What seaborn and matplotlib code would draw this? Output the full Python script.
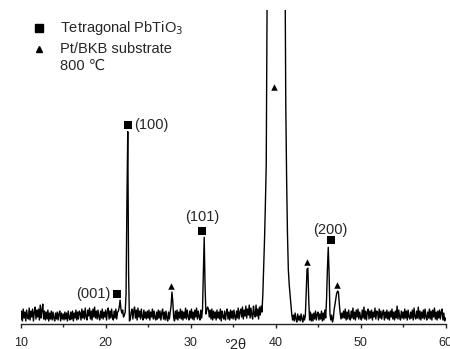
import numpy as np
import pandas as pd
import seaborn as sns
import matplotlib.pyplot as plt

# XRD pattern, 10-60 deg 2theta, step 0.1 (counts)
two_theta = np.round(np.arange(10.0, 60.05, 0.1), 1)
counts = [
    40, 130, 30, 150, 60, 120, 30, 140, 70, 50,          # 10
    160, 40, 130, 70, 150, 30, 120, 170, 50, 140,        # 11
    70, 150, 40, 190, 60, 140, 200, 50, 130, 40,         # 12
    120, 50, 140, 30, 110, 50, 130, 40, 120, 60,         # 13
    30, 110, 50, 120, 40, 100, 130, 30, 110, 50,         # 14
    100, 40, 120, 50, 110, 30, 130, 60, 40, 120,         # 15
    50, 130, 30, 110, 60, 140, 40, 120, 50, 130,         # 16
    110, 40, 150, 60, 130, 50, 160, 70, 40, 140,         # 17
    80, 160, 50, 130, 40, 150, 70, 170, 60, 130,         # 18
    50, 140, 70, 40, 130, 60, 150, 50, 120, 70,          # 19
    140, 40, 120, 160, 50, 130, 60, 150, 70, 40,         # 20
    130, 60, 150, 50, 120, 130, 170, 240, 150, 110,      # 21
    140, 70, 90, 120, 300, 1200, 1930, 500, 30, 50,      # 22
    120, 150, 50, 130, 170, 60, 140, 40, 160, 70,        # 23
    130, 50, 150, 70, 40, 140, 60, 120, 50, 130,         # 24
    60, 140, 40, 120, 70, 150, 50, 130, 60, 40,          # 25
    120, 50, 140, 60, 130, 40, 110, 150, 50, 120,        # 26
    40, 130, 60, 30, 120, 50, 120, 180, 320, 230,        # 27
    70, 30, 130, 50, 140, 40, 120, 60, 150, 50,          # 28
    130, 40, 120, 60, 160, 50, 140, 70, 40, 130,         # 29
    60, 150, 50, 120, 40, 140, 70, 160, 50, 130,         # 30
    70, 40, 140, 60, 150, 500, 870, 380, 100, 140,       # 31
    170, 150, 70, 140, 50, 150, 40, 130, 60, 120,        # 32
    40, 140, 60, 120, 50, 150, 30, 130, 70, 50,          # 33
    130, 40, 110, 150, 50, 120, 40, 140, 60, 130,        # 34
    50, 140, 70, 40, 130, 60, 160, 50, 120, 150,         # 35
    70, 170, 50, 140, 80, 180, 60, 150, 90, 190,         # 36
    60, 160, 90, 50, 180, 100, 70, 190, 80, 150,         # 37
    50, 170, 90, 180, 120, 300, 560, 850, 1200, 1600,    # 38
    3200, 5500, 8000, 9500, 10000, 10000, 9500, 9000, 8500, 8200,  # 39
    8000, 7800, 7500, 7000, 6500, 6000, 5500, 5000, 4500, 4000,    # 40
    5000, 3800, 2200, 1450, 900, 550, 400, 300, 200, 100,          # 41
    40, 90, 30, 110, 50, 20, 100, 40, 80, 30,            # 42
    100, 50, 20, 90, 40, 80, 300, 550, 560, 250,         # 43
    40, 120, 30, 100, 30, 110, 50, 130, 40, 100,         # 44
    120, 40, 100, 50, 130, 30, 110, 40, 140, 60,         # 45
    250, 550, 770, 500, 100, 40, 90, 20, 60, 150,        # 46
    200, 260, 310, 330, 320, 200, 110, 50, 110, 60,      # 47
    130, 60, 150, 40, 120, 50, 140, 70, 40, 130,         # 48
    60, 160, 50, 120, 40, 140, 70, 150, 50, 120,         # 49
    70, 40, 140, 60, 170, 50, 130, 40, 120, 150,         # 50
    50, 130, 60, 140, 40, 120, 70, 160, 50, 130,         # 51
    120, 40, 150, 60, 130, 50, 110, 140, 40, 120,        # 52
    60, 140, 50, 120, 40, 130, 70, 150, 50, 120,         # 53
    40, 130, 60, 180, 50, 140, 70, 40, 130, 60,          # 54
    120, 50, 150, 60, 130, 40, 140, 70, 50, 120,         # 55
    60, 140, 40, 160, 70, 50, 130, 60, 170, 50,          # 56
    130, 40, 120, 60, 140, 50, 150, 70, 40, 120,         # 57
    60, 150, 50, 130, 40, 140, 70, 160, 50, 120,         # 58
    40, 130, 60, 140, 50, 120, 150, 40, 110, 30,         # 59
    60,                                                  # 60
]

# peak markers
sq_x = [21.3, 22.6, 31.36, 46.5]
sq_y = [300, 2000, 930, 840]
tri_x = [27.64, 39.85, 43.74, 47.2]
tri_y = [380, 2380, 620, 390]

# hkl labels
hkl_text = ["(001)", "(100)", "(101)", "(200)"]
hkl_x = [20.6, 23.3, 31.4, 46.4]
hkl_y = [300, 2000, 1070, 940]
hkl_ha = ["right", "left", "center", "center"]

sns.set_style("ticks")
plt.rcParams["font.family"] = ["Liberation Sans", "DejaVu Sans"]

df = pd.DataFrame({"two_theta": two_theta, "counts": counts})

fig = plt.figure(figsize=(4.5, 3.49), dpi=100)
ax = fig.add_axes([0.046, 0.0716, 0.944, 0.9])

sns.lineplot(data=df, x="two_theta", y="counts", color="black",
             linewidth=1.0, estimator=None, ax=ax)
sns.scatterplot(x=sq_x, y=sq_y, marker="s", color="black", s=28,
                linewidth=0, ax=ax)
sns.scatterplot(x=tri_x, y=tri_y, marker="^", color="black", s=22,
                linewidth=0, ax=ax)

for t, x, y, ha in zip(hkl_text, hkl_x, hkl_y, hkl_ha):
    ax.text(x, y, t, ha=ha, va="center", fontsize=10.5)

# legend-like key at top left
ax.plot([0.043], [0.942], marker="s", color="black", ms=5.5,
        transform=ax.transAxes, clip_on=False)
ax.plot([0.043], [0.877], marker="^", color="black", ms=5,
        transform=ax.transAxes, clip_on=False)
ax.text(0.093, 0.942, "Tetragonal PbTiO$_3$", transform=ax.transAxes,
        va="center", fontsize=10.5)
ax.text(0.093, 0.877, "Pt/BKB substrate", transform=ax.transAxes,
        va="center", fontsize=10.5)
ax.text(0.093, 0.823, "800 \u2103", transform=ax.transAxes,
        va="center", fontsize=10.5)

ax.set_xlim(10, 60)
ax.set_ylim(0, 3150)
ax.set_xticks([10, 20, 30, 40, 50, 60])
ax.set_xticks([15, 25, 35, 45, 55], minor=True)
ax.tick_params(axis="x", which="major", length=3, width=1, labelsize=9, pad=6)
ax.tick_params(axis="x", which="minor", length=2, width=1)
ax.set_yticks([])
ax.set_ylabel("")
ax.set_xlabel("\u00b02\u03b8", fontsize=10.5)
ax.xaxis.set_label_coords(0.504, -0.045)
for side in ["left", "right", "top"]:
    ax.spines[side].set_visible(False)
ax.spines["bottom"].set_linewidth(1)

fig.savefig("out.png", dpi=100)
